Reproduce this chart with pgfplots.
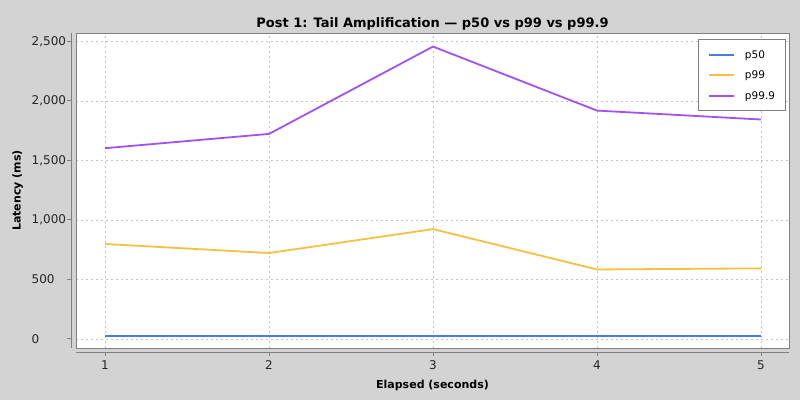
\documentclass[border=0pt]{standalone}
\usepackage{pgfplots}
\pgfplotsset{compat=1.18}
\usepackage{fontspec}
\setmainfont{DejaVu Sans}
\setsansfont{DejaVu Sans}
\definecolor{bg}{RGB}{211,211,211}
\definecolor{cPa}{RGB}{74,122,232}
\definecolor{cPb}{RGB}{245,193,66}
\definecolor{cPc}{RGB}{163,82,240}
\definecolor{framec}{RGB}{128,128,128}
\definecolor{gridc}{RGB}{196,196,196}
\begin{document}
\begin{tikzpicture}
\fill[bg] (0,0) rectangle (800bp,400bp);
\begin{axis}[
  at={(76bp,52bp)}, anchor=south west,
  scale only axis, width=713bp, height=315bp,
  xmin=0.823, xmax=5.171, ymin=-77, ymax=2570,
  clip=false,
  axis background/.style={fill=white},
  axis x line*=bottom, axis y line*=left,
  axis x line shift=4bp, axis y line shift=5bp,
  axis line style={draw=framec, line width=0.8bp},
  xtick={1,2,3,4,5}, ytick={0,500,1000,1500,2000,2500},
  tick align=outside, major tick length=3.5bp,
  tick style={draw=framec, line width=0.8bp},
  grid=major,
  major grid style={draw=gridc, line width=0.6bp, dash pattern=on 2bp off 3bp},
  /pgf/number format/.cd, 1000 sep={,}, assume math mode=true, /pgfplots/.cd,
  ticklabel style={font=\fontsize{12bp}{14bp}\selectfont, text=black!85},
  xticklabel style={anchor=north, inner sep=0pt, yshift=-5bp},
  yticklabel style={anchor=west, inner sep=0pt, xshift=-36bp},
  title={Post 1: Tail Amplification — p50 vs p99 vs p99.9},
  title style={at={(axis description cs:0.5,1.0159)}, anchor=base, inner sep=0pt, yshift=-6pt,
    font=\bfseries\fontsize{13bp}{15bp}\selectfont},
  xlabel={Elapsed (seconds)},
  xlabel style={at={(axis description cs:0.5,-0.127)}, anchor=base, inner sep=0pt,
    font=\bfseries\fontsize{11bp}{13bp}\selectfont},
  ylabel={Latency (ms)},
  ylabel style={at={(axis description cs:-0.0776,0.5)}, anchor=base, inner sep=0pt,
    font=\bfseries\fontsize{11bp}{13bp}\selectfont},
  legend cell align=left,
  legend image code/.code={\draw[#1] (0bp,0bp) -- (25bp,0bp); \path (35bp,0bp);},
  legend style={at={(axis description cs:0.995,0.98)}, anchor=north east,
    draw=framec, line width=0.8bp, fill=white,
    inner xsep=10bp, inner ysep=4.75bp,
    font=\fontsize{10.5bp}{12bp}\selectfont,
    nodes={inner sep=0pt, text height=7.6bp, text depth=0pt, minimum height=20.5bp}},
]
\addplot[cPa, line width=1.8bp] coordinates {(1,25) (2,25) (3,25) (4,25) (5,25)};
\addlegendentry{p50}
\addplot[cPb, line width=1.8bp] coordinates {(1,797) (2,721) (3,922) (4,583) (5,592)};
\addlegendentry{p99}
\addplot[cPc, line width=1.8bp] coordinates {(1,1602) (2,1722) (3,2456) (4,1918) (5,1843)};
\addlegendentry{p99.9}
\draw[framec, line width=0.8bp] (rel axis cs:0,0) rectangle (rel axis cs:1,1);
\end{axis}
\pgfresetboundingbox
\useasboundingbox (0,0) rectangle (800bp,400bp);
\end{tikzpicture}
\end{document}
